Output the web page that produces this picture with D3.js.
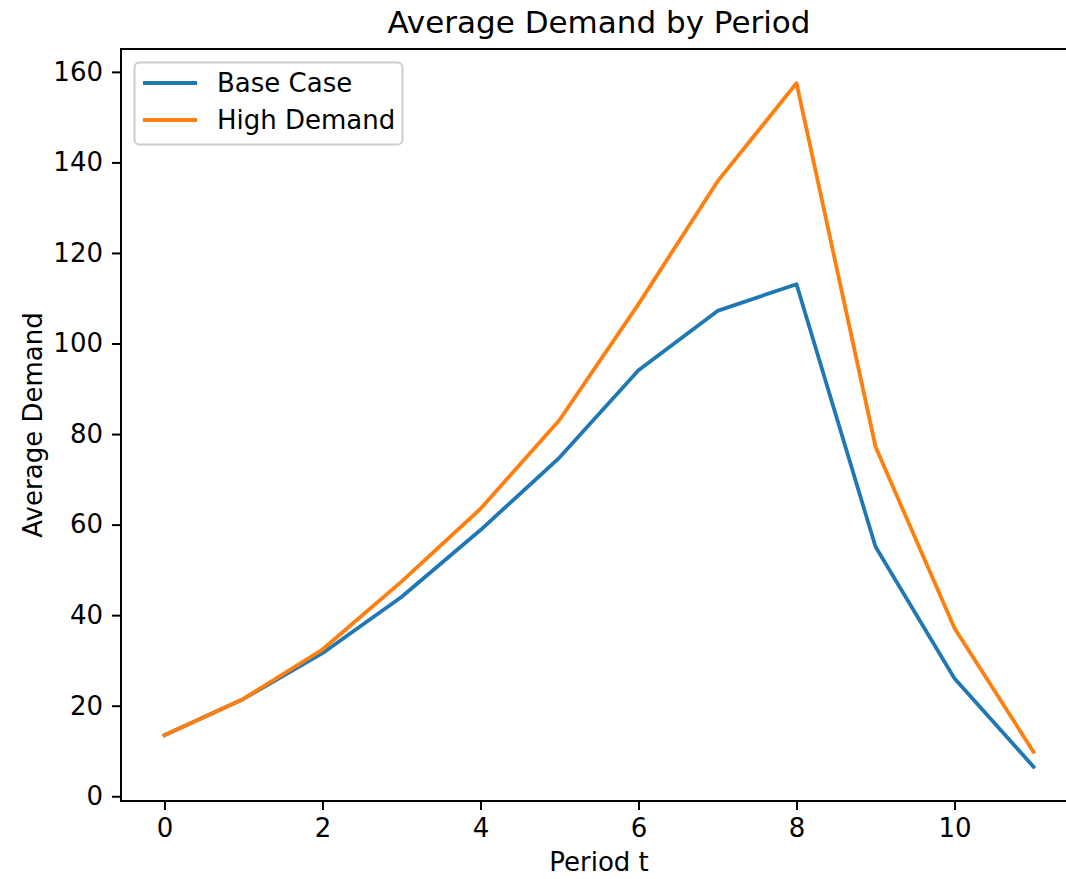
<!DOCTYPE html>
<html>
<head>
<meta charset="utf-8">
<script src="https://cdn.jsdelivr.net/npm/d3@7"></script>
<style>
  html, body { margin: 0; padding: 0; background: #fff; }
  svg text { font-family: "DejaVu Sans", sans-serif; fill: #000; }
</style>
</head>
<body>
<svg id="chart" width="1066" height="879"></svg>
<script>
const periods = [0, 1, 2, 3, 4, 5, 6, 7, 8, 9, 10, 11];
const baseCase = [13.5, 21.5, 31.6, 44.0, 58.8, 74.8, 94.1, 107.2, 113.1, 55.1, 26.0, 6.5];
const highDemand = [13.5, 21.5, 32.4, 47.4, 63.5, 83.1, 108.7, 135.8, 157.5, 77.2, 37.1, 9.8];
const seriesNames = ["Base Case", "High Demand"];
const seriesColors = ["#1f77b4", "#ff7f0e"];
const xTicks = [0, 2, 4, 6, 8, 10];
const yTicks = [0, 20, 40, 60, 80, 100, 120, 140, 160];

const svg = d3.select("#chart");
const mLeft = 121, mRight = 1077, mTop = 49, mBottom = 801;
const fs = 26;

const allVals = baseCase.concat(highDemand);
const yMin = d3.min(allVals), yMax = d3.max(allVals);
const yPad = (yMax - yMin) * 0.05;
const x = d3.scaleLinear().domain([-0.55, 11.55]).range([mLeft, mRight]);
const y = d3.scaleLinear().domain([yMin - yPad, yMax + yPad]).range([mBottom, mTop]);

// axes
const xAxis = d3.axisBottom(x).tickValues(xTicks).tickSizeOuter(0).tickSize(9).tickPadding(9);
const yAxis = d3.axisLeft(y).tickValues(yTicks).tickSizeOuter(0).tickSize(9).tickPadding(9);

const gx = svg.append("g").attr("transform", `translate(0,${mBottom})`).call(xAxis);
const gy = svg.append("g").attr("transform", `translate(${mLeft},0)`).call(yAxis);
[gx, gy].forEach(g => {
  g.select(".domain").remove();
  g.selectAll(".tick line").attr("stroke", "#000").attr("stroke-width", 2);
  g.selectAll(".tick text").attr("font-size", fs).attr("font-family", "DejaVu Sans");
});

// lines
const line = d3.line().x((d, i) => x(periods[i])).y(d => y(d));
[baseCase, highDemand].forEach((s, k) => {
  svg.append("path").datum(s)
    .attr("d", line)
    .attr("fill", "none")
    .attr("stroke", seriesColors[k])
    .attr("stroke-width", 3.8)
    .attr("stroke-linejoin", "round")
    .attr("stroke-linecap", "square");
});

// spines
svg.append("rect").attr("x", mLeft).attr("y", mTop).attr("width", mRight - mLeft).attr("height", mBottom - mTop)
  .attr("fill", "none").attr("stroke", "#000").attr("stroke-width", 2);

// title & labels
svg.append("text").attr("x", (mLeft + mRight) / 2).attr("y", 33).attr("text-anchor", "middle")
  .attr("font-size", 31).text("Average Demand by Period");
svg.append("text").attr("x", (mLeft + mRight) / 2).attr("y", 871).attr("text-anchor", "middle")
  .attr("font-size", fs).text("Period t");
svg.append("text").attr("transform", `translate(42,${(mTop + mBottom) / 2}) rotate(-90)`)
  .attr("text-anchor", "middle").attr("font-size", fs).text("Average Demand");

// legend
const lg = svg.append("g");
lg.append("rect").attr("x", 134.5).attr("y", 62.5).attr("width", 268).attr("height", 82).attr("rx", 5)
  .attr("fill", "#fff").attr("fill-opacity", 0.8).attr("stroke", "#ccc").attr("stroke-width", 2);
seriesNames.forEach((name, k) => {
  const cy = 83 + k * 37;
  lg.append("line").attr("x1", 143).attr("x2", 197).attr("y1", cy).attr("y2", cy)
    .attr("stroke", seriesColors[k]).attr("stroke-width", 3.8);
  lg.append("text").attr("x", 217).attr("y", cy + 9).attr("font-size", fs).text(name);
});
</script>
</body>
</html>
